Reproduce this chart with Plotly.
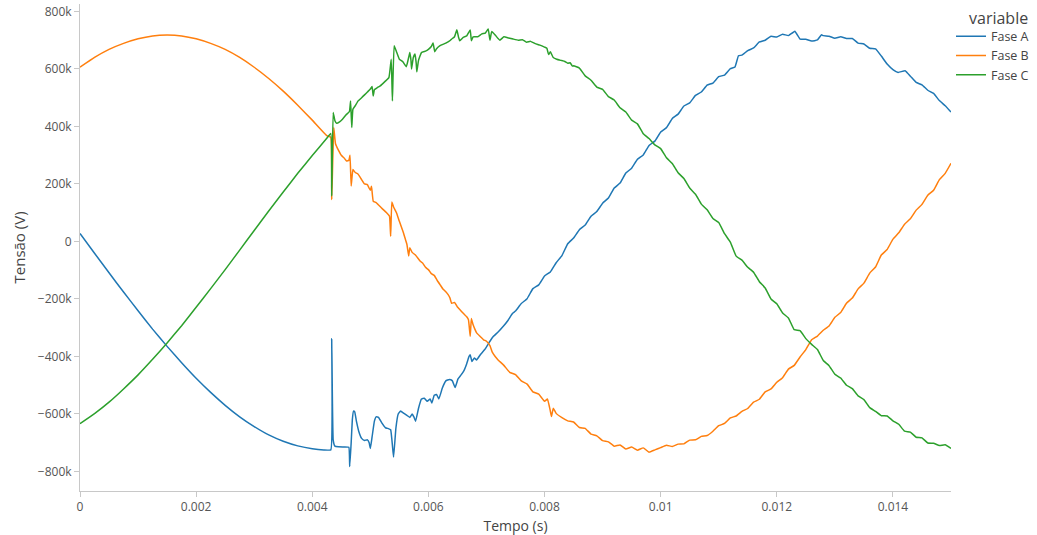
import plotly.graph_objects as go

# ---------------- data (time in s, voltage in kV) ----------------
t_fase_a = [0, .00025, .0005, .00075, .001, .00125, .0015, .00175, .002, .00225, .0025, .00275,
            .003, .00325, .0035, .00375, .004, .0042, .00432, .004335, .00436, .00439, .00445,
            .00455, .00463, .004645, .00467, .00469, .00471, .00473, .00476, .0048, .00485, .0049,
            .00495, .00498, .005, .00503, .00507, .0051, .00514, .0052, .00526, .0053, .00535,
            .0054, .00544, .00548, .00552, .00558, .00563, .00568, .00572, .00575, .00578, .00583,
            .00588, .00593, .00598, .00603, .00606, .0061, .00614, .00618, .00624, .0063, .00636,
            .00641, .00646, .00651, .00656, .00661, .00666, .0067, .00672, .00675, .00679, .00683,
            .0069, .00697, .00706, .00712, .0072, .00729, .00737, .00745, .0075, .0076, .0077,
            .0078, .0079, .008, .0081, .0082, .0083, .0084, .0085, .0086, .0087, .0088, .0089,
            .009, .0091, .0092, .0093, .0094, .0095, .0096, .0097, .0098, .0099, .01, .0101,
            .0102, .0103, .0104, .0105, .0106, .0107, .0108, .0109, .011, .0111, .0112, .01128,
            .01134, .0114, .0115, .0116, .0117, .0118, .0119, .012, .0121, .0122, .01231, .0124,
            .0125, .0126, .0127, .01277, .0128, .0129, .013, .0131, .0132, .0133, .0134, .0135,
            .0136, .0137, .0138, .0139, .014, .01409, .01421, .0143, .0144, .0145, .0146, .0147,
            .0148, .0149, .015]
v_fase_a = [28, -41, -109, -176, -241, -305, -365, -422, -476, -525, -570, -610,
            -644, -673, -695, -711, -721, -725, -725, -338, -690, -712, -714,
            -715, -716, -783, -700, -620, -590, -592, -625, -660, -685, -692,
            -690, -700, -720, -680, -625, -610, -612, -632, -648, -650, -655,
            -750, -650, -600, -590, -598, -605, -612, -600, -610, -625, -580,
            -548, -545, -556, -548, -562, -535, -532, -548, -510, -485, -480,
            -484, -508, -478, -465, -450, -425, -400, -394, -418, -405, -412,
            -392, -376, -347, -330, -315, -295, -275, -250, -242, -216, -199,
            -164, -151, -120, -106, -74, -49, -8, 12, 41, 57, 88, 104,
            133, 151, 186, 203, 238, 255, 286, 301, 334, 349, 381, 396,
            428, 443, 471, 482, 508, 520, 544, 551, 573, 579, 601, 607,
            646, 648, 664, 673, 694, 700, 714, 711, 721, 716, 731, 704,
            703, 697, 701, 719, 716, 714, 707, 712, 706, 706, 690, 687,
            672, 670, 645, 617, 598, 588, 594, 575, 553, 545, 526, 515,
            490, 472, 450]

t_fase_b = [0, .00025, .0005, .00075, .001, .00125, .0015, .00175, .002, .00225, .0025, .00275,
            .003, .00325, .0035, .00375, .004, .00425, .00432, .004335, .00437, .0044, .00445,
            .0045, .00455, .00459, .00463, .00465, .00467, .0047, .00474, .00479, .00485, .0049,
            .00495, .00498, .005, .00502, .00505, .0051, .0052, .00528, .00533, .00535, .00537,
            .0054, .00545, .0055, .00557, .0056, .00563, .00566, .00568, .00572, .00578, .00586,
            .0059, .00595, .006, .00605, .0061, .00615, .0062, .00625, .0063, .00634, .00637,
            .0064, .00645, .0065, .00654, .0066, .00666, .00669, .00672, .00674, .00677, .0068,
            .00683, .0069, .00695, .007, .00706, .0071, .00715, .0072, .0073, .0074, .0075, .0076,
            .0077, .0078, .0079, .008, .00805, .0081, .00812, .00815, .0082, .0083, .0084, .0085,
            .0086, .0087, .0088, .0089, .009, .0091, .0092, .0093, .0094, .0095, .0096, .0097,
            .0098, .0099, .01, .0101, .0102, .0103, .0104, .0105, .0106, .0107, .0108, .0109,
            .011, .0111, .0112, .0113, .0114, .0115, .0116, .0117, .0118, .0119, .012, .0121,
            .0122, .0123, .0124, .0125, .0126, .0127, .0128, .0129, .013, .0131, .0132, .0133,
            .0134, .0135, .0136, .0137, .0138, .0139, .014, .0141, .0142, .0143, .0144, .0145,
            .0146, .0147, .0148, .0149, .015]
v_fase_b = [606, 640, 668, 689, 705, 715, 718, 715, 705, 689, 668, 640,
            606, 567, 523, 474, 422, 368, 362, 146, 396, 340, 318,
            300, 290, 280, 282, 300, 193, 250, 240, 234, 215, 200,
            198, 185, 178, 192, 140, 135, 115, 100, 88, 18, 137,
            120, 100, 70, 30, 10, -10, -51, -22, -38, -48, -69,
            -75, -90, -98, -112, -118, -135, -150, -165, -175, -185, -196,
            -215, -212, -228, -237, -250, -262, -272, -330, -268, -290, -305,
            -318, -332, -342, -347, -362, -385, -400, -412, -431, -455, -463, -485,
            -496, -523, -531, -556, -548, -590, -609, -580, -598, -613, -624, -628,
            -647, -650, -670, -676, -693, -697, -712, -708, -722, -715, -726, -718,
            -733, -725, -717, -709, -713, -705, -704, -691, -690, -678, -675, -660,
            -641, -633, -614, -607, -591, -581, -559, -549, -523, -513, -490, -474,
            -444, -431, -402, -376, -342, -329, -309, -294, -264, -247, -215, -197,
            -165, -145, -110, -89, -47, -28, 8, 30, 60, 79, 109, 129,
            161, 178, 215, 237, 272]

t_fase_c = [0, .00025, .0005, .00075, .001, .00125, .0015, .00175, .002, .00225, .0025, .00275,
            .003, .00325, .0035, .00375, .004, .00425, .00432, .004335, .00436, .00439, .00442,
            .00447, .00452, .00458, .00464, .00466, .00468, .0047, .00474, .00479, .00485, .0049,
            .00495, .005, .00503, .00505, .00507, .00512, .00517, .00525, .00532, .00536, .00538,
            .00541, .00545, .0055, .00556, .00562, .00566, .00568, .0057, .00571, .00574, .00577,
            .00579, .0058, .00583, .00588, .00595, .006, .00605, .00608, .00611, .00614, .0062,
            .0063, .00638, .0064, .00645, .00649, .00652, .00654, .0066, .00666, .00672, .00674,
            .00677, .00685, .00692, .00698, .00703, .00706, .00709, .00715, .00723, .0073, .00738,
            .00746, .00755, .00762, .00769, .00776, .00784, .00792, .008, .00804, .00807, .0081,
            .00815, .00821, .00828, .00835, .0084, .00844, .00848, .0085, .0086, .0087, .0088,
            .0089, .009, .0091, .0092, .0093, .0094, .0095, .0096, .0097, .0098, .0099, .01,
            .0101, .0102, .0103, .0104, .0105, .0106, .0107, .0108, .0109, .011, .0111, .0112,
            .0113, .0114, .0115, .0116, .0117, .0118, .0119, .012, .0121, .0122, .0123, .0124,
            .0125, .0126, .0127, .0128, .0129, .013, .0131, .0132, .0133, .0134, .0135, .0136,
            .0137, .0138, .0139, .014, .0141, .0142, .0143, .0144, .0145, .0146, .0147, .0148,
            .0149, .015]
v_fase_c = [-634, -599, -559, -513, -464, -410, -353, -293, -229, -164, -98, -30,
            38, 106, 172, 237, 299, 359, 376, 158, 449, 420, 411,
            416, 425, 440, 452, 489, 396, 460, 472, 489, 500, 510,
            520, 530, 539, 506, 528, 535, 541, 556, 570, 634, 489,
            681, 660, 634, 625, 608, 640, 657, 630, 600, 640, 652,
            620, 590, 630, 657, 662, 668, 678, 690, 660, 670, 681,
            690, 700, 704, 712, 736, 710, 698, 710, 715, 736, 698,
            712, 712, 722, 725, 739, 700, 730, 718, 700, 712, 708,
            704, 700, 702, 693, 696, 688, 683, 676, 672, 650, 660,
            640, 634, 630, 626, 620, 622, 610, 611, 603, 576, 561,
            537, 529, 504, 492, 465, 450, 422, 409, 375, 358, 336, 323,
            291, 271, 239, 219, 186, 164, 130, 110, 80, 66, 27, -2,
            -51, -65, -90, -107, -140, -162, -200, -217, -249, -266, -307, -310,
            -338, -358, -376, -414, -432, -462, -475, -500, -512, -537, -550, -578,
            -591, -606, -607, -624, -636, -660, -663, -681, -683, -701, -702, -710,
            -707, -720]

series_names = ["Fase A", "Fase B", "Fase C"]
series_colors = ["#1f77b4", "#ff7f0e", "#2ca02c"]

# ---------------- figure ----------------
fig = go.Figure()
for name, tt, vv, col in zip(series_names,
                             [t_fase_a, t_fase_b, t_fase_c],
                             [v_fase_a, v_fase_b, v_fase_c],
                             series_colors):
    fig.add_trace(go.Scatter(x=tt, y=[v * 1000 for v in vv], mode="lines", name=name,
                             line=dict(color=col, width=1.5, shape="spline", smoothing=0.3)))

axis_style = dict(showgrid=False, zeroline=False, showline=True, linecolor="#c8c8c8",
                  linewidth=1, ticks="outside", tickcolor="#c8c8c8", ticklen=5,
                  tickfont=dict(size=12, color="#555"))

fig.update_layout(
    width=1037, height=535,
    margin=dict(l=80, r=86, t=4, b=44, autoexpand=False),
    paper_bgcolor="white", plot_bgcolor="white",
    font=dict(family="Open Sans, verdana, arial, sans-serif", color="#444", size=12),
    legend=dict(font=dict(size=12.5), x=1.0, xanchor="left", y=0.964, yanchor="top",
                tracegroupgap=0, itemwidth=30),
    xaxis=dict(title=dict(text="Tempo (s)", standoff=10, font=dict(size=14, color="#444")),
               range=[0, 0.015], dtick=0.002, **axis_style),
    yaxis=dict(range=[-868000, 826000], dtick=200000, **axis_style),
    annotations=[
        dict(text="variable", xref="paper", yref="paper", x=(967 - 80) / 871, y=1.0,
             xanchor="left", yanchor="top", yshift=-1, showarrow=False,
             font=dict(size=16, color="#444")),
        dict(text="Tensão (V)", xref="paper", yref="paper", x=(18 - 80) / 871, y=0.5,
             xanchor="center", yanchor="middle", textangle=-90, showarrow=False,
             font=dict(size=15, color="#444")),
    ],
)

fig.write_html("out.html")
